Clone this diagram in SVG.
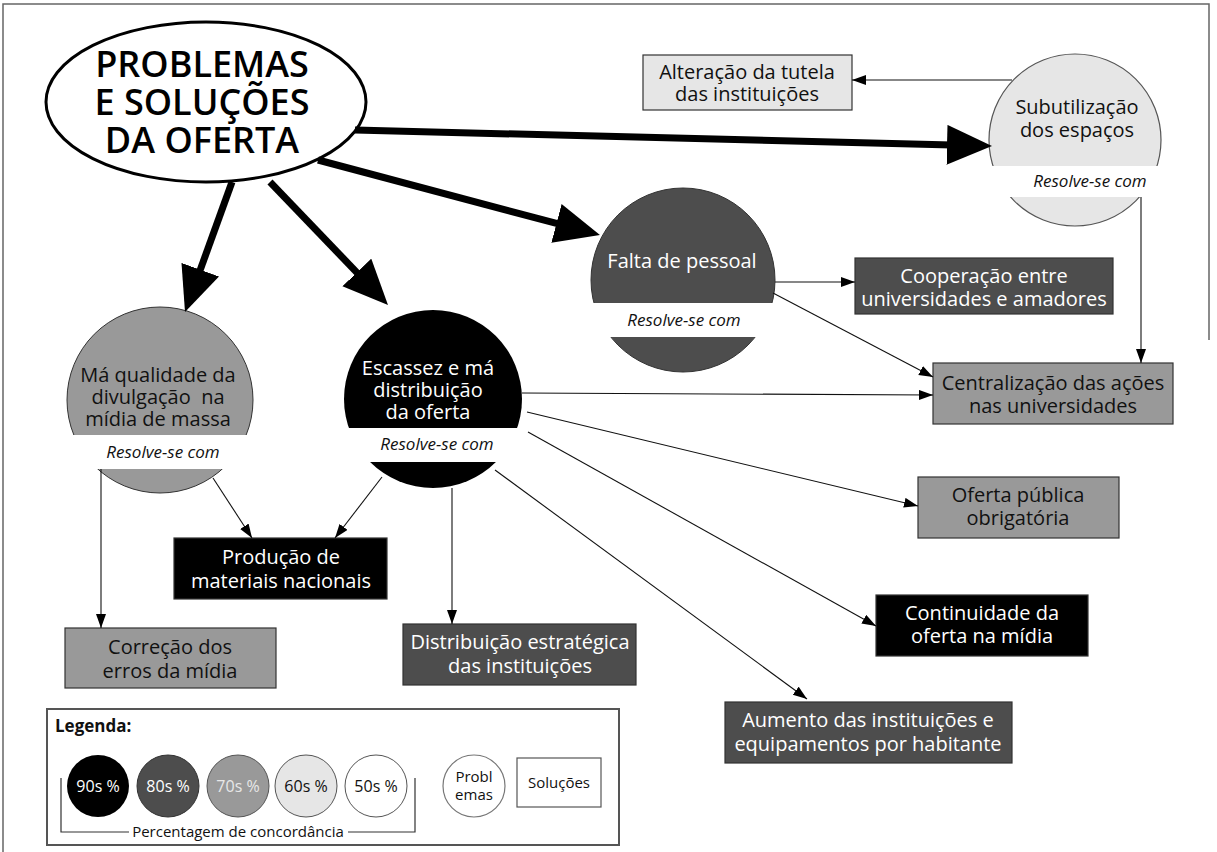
<svg xmlns="http://www.w3.org/2000/svg" width="1217" height="852" viewBox="0 0 1217 852">
  <defs>
    <style>
      text { font-family: "Open Sans", "Noto Sans", "DejaVu Sans", sans-serif; text-anchor: middle; }
      .lbl { font-size: 20px; }
      .w { fill: #ffffff; }
      .k { fill: #111111; }
      .rs { font-size: 17px; font-style: italic; fill: #111111; }
      .title { font-size: 36px; font-weight: 600; fill: #000; }
      .box { stroke: #333333; stroke-width: 1.2; }
      .c90 { fill: #000000; }
      .c80 { fill: #4d4d4d; }
      .c70 { fill: #999999; }
      .c60 { fill: #e6e6e6; }
      .c50 { fill: #ffffff; }
      .band { fill: #ffffff; }
      .thin { stroke: #111; stroke-width: 1.1; fill: none; marker-end: url(#arr); }
      .thick { stroke: #000; stroke-width: 7; fill: none; marker-end: url(#bigarr); }
      .leg { font-size: 16px; }
      .frame { stroke: #666; stroke-width: 1.5; fill: none; }
    </style>
    <marker id="arr" markerUnits="userSpaceOnUse" markerWidth="15" markerHeight="11" refX="14" refY="5" orient="auto">
      <path d="M0,0 L14,5 L0,10 z" fill="#000"/>
    </marker>
    <marker id="bigarr" markerUnits="userSpaceOnUse" markerWidth="48" markerHeight="42" refX="5" refY="20" orient="auto">
      <path d="M0,0 L45,20 L0,40 z" fill="#000"/>
    </marker>
  </defs>

  <rect width="1217" height="852" fill="#ffffff"/>
  <!-- page frame -->
  <path class="frame" d="M3,852 V4 H1209 V340"/>

  <!-- title -->
  <g id="title">
    <ellipse cx="206" cy="102" rx="160" ry="80" fill="#fff" stroke="#000" stroke-width="3"/>
    <text class="title" x="202" y="77">PROBLEMAS</text>
    <text class="title" x="202" y="115">E SOLUÇÕES</text>
    <text class="title" x="202" y="153">DA OFERTA</text>
  </g>

  <!-- problems -->
  <g id="subutilizacao">
    <circle cx="1075" cy="140" r="86" class="c60" stroke="#555" stroke-width="1.2"/>
    <rect class="band" x="987" y="166" width="176" height="31"/>
    <text class="lbl k" x="1077" y="114">Subutilização</text>
    <text class="lbl k" x="1077" y="137">dos espaços</text>
    <text class="rs" x="1090" y="187">Resolve-se com</text>
  </g>

  <g id="falta-pessoal">
    <circle cx="683" cy="280" r="92" class="c80" stroke="#333" stroke-width="1"/>
    <rect class="band" x="589" y="303" width="188" height="34"/>
    <text class="lbl w" x="682" y="268">Falta de pessoal</text>
    <text class="rs" x="684" y="326">Resolve-se com</text>
  </g>

  <g id="ma-qualidade">
    <circle cx="160" cy="400" r="93" class="c70" stroke="#333" stroke-width="1"/>
    <rect class="band" x="65" y="435" width="190" height="34"/>
    <text class="lbl k" x="158" y="382">Má qualidade da</text>
    <text class="lbl k" x="158" y="404" xml:space="preserve">divulgação  na</text>
    <text class="lbl k" x="158" y="426">mídia de massa</text>
    <text class="rs" x="163" y="458">Resolve-se com</text>
  </g>

  <g id="escassez">
    <circle cx="433" cy="399" r="89" class="c90"/>
    <rect class="band" x="342" y="428" width="182" height="34"/>
    <text class="lbl w" x="428" y="375">Escassez e má</text>
    <text class="lbl w" x="428" y="397">distribuição</text>
    <text class="lbl w" x="428" y="419">da oferta</text>
    <text class="rs" x="437" y="450">Resolve-se com</text>
  </g>

  <!-- solutions -->
  <g id="alteracao-tutela">
    <rect x="643" y="55" width="209" height="55" class="c60 box"/>
    <text class="lbl k" x="747" y="79">Alteração da tutela</text>
    <text class="lbl k" x="747" y="101">das instituições</text>
  </g>

  <g id="cooperacao">
    <rect x="855" y="258" width="258" height="56" class="c80 box"/>
    <text class="lbl w" x="984" y="283">Cooperação entre</text>
    <text class="lbl w" x="984" y="306">universidades e amadores</text>
  </g>

  <g id="centralizacao">
    <rect x="933" y="363" width="240" height="61" class="c70 box"/>
    <text class="lbl k" x="1053" y="390">Centralização das ações</text>
    <text class="lbl k" x="1053" y="413">nas universidades</text>
  </g>

  <g id="oferta-publica">
    <rect x="918" y="477" width="201" height="61" class="c70 box"/>
    <text class="lbl k" x="1018" y="502">Oferta pública</text>
    <text class="lbl k" x="1018" y="525">obrigatória</text>
  </g>

  <g id="continuidade">
    <rect x="876" y="595" width="212" height="61" class="c90 box"/>
    <text class="lbl w" x="982" y="620">Continuidade da</text>
    <text class="lbl w" x="982" y="643">oferta na mídia</text>
  </g>

  <g id="aumento">
    <rect x="725" y="702" width="287" height="61" class="c80 box"/>
    <text class="lbl w" x="868" y="727">Aumento das instituições e</text>
    <text class="lbl w" x="868" y="751">equipamentos por habitante</text>
  </g>

  <g id="distribuicao">
    <rect x="403" y="624" width="233" height="61" class="c80 box"/>
    <text class="lbl w" x="520" y="649">Distribuição estratégica</text>
    <text class="lbl w" x="520" y="673">das instituições</text>
  </g>

  <g id="producao">
    <rect x="174" y="538" width="213" height="61" class="c90 box"/>
    <text class="lbl w" x="281" y="564">Produção de</text>
    <text class="lbl w" x="281" y="588">materiais nacionais</text>
  </g>

  <g id="correcao">
    <rect x="65" y="628" width="211" height="60" class="c70 box"/>
    <text class="lbl k" x="170" y="654">Correção dos</text>
    <text class="lbl k" x="170" y="678">erros da mídia</text>
  </g>

  <!-- connectors -->
  <g id="connectors">
    <line class="thick" x1="355" y1="130" x2="952" y2="145"/>
    <line class="thick" x1="318" y1="160" x2="561.3" y2="224.7"/>
    <line class="thick" x1="232" y1="182" x2="198.6" y2="274.4"/>
    <line class="thick" x1="270" y1="182" x2="360.3" y2="276.1"/>

    <line class="thin" x1="1012" y1="80" x2="852" y2="80"/>
    <line class="thin" x1="1141" y1="197" x2="1141" y2="363"/>
    <line class="thin" x1="775" y1="282" x2="855" y2="282"/>
    <line class="thin" x1="773" y1="293" x2="933" y2="377"/>
    <line class="thin" x1="522" y1="393" x2="933" y2="395"/>
    <line class="thin" x1="527" y1="412" x2="918" y2="506"/>
    <line class="thin" x1="528" y1="432" x2="876" y2="626"/>
    <line class="thin" x1="495" y1="470" x2="807" y2="699"/>
    <line class="thin" x1="452" y1="488" x2="452" y2="624"/>
    <line class="thin" x1="382" y1="477" x2="335" y2="538"/>
    <line class="thin" x1="213" y1="478" x2="252" y2="538"/>
    <line class="thin" x1="101" y1="469" x2="101" y2="628"/>
  </g>

  <!-- legend -->
  <g id="legend">
    <rect x="47" y="709" width="572" height="136" fill="#fff" stroke="#555" stroke-width="2"/>
    <text x="55" y="732" style="text-anchor:start;font-size:17px;font-weight:700;fill:#111">Legenda:</text>
    <circle cx="98" cy="786" r="31" class="c90"/>
    <circle cx="168" cy="786" r="31" class="c80" stroke="#333" stroke-width="1"/>
    <circle cx="238" cy="786" r="31" class="c70" stroke="#555" stroke-width="1"/>
    <circle cx="306" cy="786" r="31" class="c60" stroke="#555" stroke-width="1"/>
    <circle cx="376" cy="786" r="31" class="c50" stroke="#555" stroke-width="1"/>
    <text class="leg w" x="98" y="792">90s %</text>
    <text class="leg w" x="168" y="792">80s %</text>
    <text class="leg" x="238" y="792" fill="#e8e8e8">70s %</text>
    <text class="leg k" x="306" y="792">60s %</text>
    <text class="leg k" x="376" y="792">50s %</text>
    <path d="M61,778 V832 H129 M348,832 H415 V778" fill="none" stroke="#333" stroke-width="1.2"/>
    <text x="238" y="837" style="font-size:15px;fill:#111">Percentagem de concordância</text>
    <circle cx="474" cy="786" r="31" fill="#fff" stroke="#777" stroke-width="1.2"/>
    <text class="k" x="474" y="782" style="font-size:15px">Probl</text>
    <text class="k" x="474" y="800" style="font-size:15px">emas</text>
    <rect x="517" y="758" width="84" height="49" fill="#fff" stroke="#555" stroke-width="1.2"/>
    <text class="k" x="559" y="788" style="font-size:15px">Soluções</text>
  </g>
</svg>
